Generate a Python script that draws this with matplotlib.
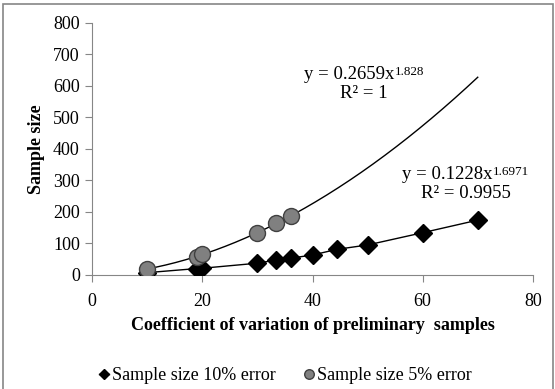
import numpy as np
import matplotlib
matplotlib.use("Agg")
import matplotlib.pyplot as plt
from matplotlib.patches import Rectangle
from matplotlib.offsetbox import TextArea, HPacker, VPacker, AnnotationBbox

# -----------------------------
# Data
# -----------------------------
cv_10 = [10, 19, 20, 30, 33.3, 36, 40, 44.4, 50, 60, 70]
n_10 = [6, 19, 20, 36, 46, 52, 62, 80, 94, 133, 173]

cv_5 = [10, 19, 20, 30, 33.3, 36]
n_5 = [17, 57, 64, 133, 163, 186]

# power trendline as printed on the chart
fit_5 = (0.2659, 1.828)
trend_x = np.linspace(10, 70, 200)

x_ticks = [0, 20, 40, 60, 80]
y_ticks = [0, 100, 200, 300, 400, 500, 600, 700, 800]

plt.rcParams["font.family"] = ["Liberation Serif", "DejaVu Serif"]

fig = plt.figure(figsize=(5.55, 3.89), dpi=100)
ax = fig.add_axes([0.1663, 0.2943, 0.7937, 0.6466])

grey = "#868686"

# trendline for the 5% series
ax.plot(trend_x, fit_5[0] * trend_x ** fit_5[1], color="black", lw=1.0, zorder=2)

# series
ax.plot(cv_10, n_10, color="black", lw=1.0, marker="D", markersize=9,
        markerfacecolor="black", markeredgecolor="black", zorder=3,
        label="Sample size 10% error")
ax.plot(cv_5, n_5, linestyle="none", marker="o", markersize=11.5,
        markerfacecolor="#808080", markeredgecolor="#404040", markeredgewidth=1.0,
        zorder=4, label="Sample size 5% error")

ax.set_xlim(0, 80)
ax.set_ylim(0, 800)
ax.set_xticks(x_ticks)
ax.set_yticks(y_ticks)
ax.tick_params(labelsize=13, color=grey, length=5, direction="out")
ax.tick_params(axis="x", pad=8)
ax.tick_params(axis="y", pad=4)

for side in ["top", "right"]:
    ax.spines[side].set_visible(False)
for side in ["left", "bottom"]:
    ax.spines[side].set_color(grey)

ax.set_xlabel("Coefficient of variation of preliminary  samples",
              fontsize=13, fontweight="bold", labelpad=5)
ax.set_ylabel("Sample size", fontsize=13, fontweight="bold", labelpad=6)


# -----------------------------
# Trendline equations (base + superscript, R² below)
# -----------------------------
def equation_box(base, power, r2, xy):
    eq_size = 13.5
    line1 = HPacker(children=[TextArea(base, textprops=dict(fontsize=eq_size)),
                              TextArea(power, textprops=dict(fontsize=eq_size * 0.7))],
                    align="top", pad=0, sep=0)
    line2 = TextArea(r2, textprops=dict(fontsize=eq_size))
    box = VPacker(children=[line1, line2], align="center", pad=0, sep=1)
    ab = AnnotationBbox(box, xy, xycoords="data", frameon=False,
                        box_alignment=(0.5, 0.5), pad=0)
    ax.add_artist(ab)


equation_box("y = 0.2659x", "1.828", "R² = 1", (49.4, 606))
equation_box("y = 0.1228x", "1.6971", "R² = 0.9955", (67.8, 288))

fig.legend(loc="center", bbox_to_anchor=(0.515, 0.035), ncol=2, frameon=False,
           fontsize=13, handlelength=0.5, handletextpad=0.2, columnspacing=1.6,
           markerscale=0.6)

# outer border of the chart area
fig.patches.append(Rectangle((0.006, -0.01), 0.99, 1.0, transform=fig.transFigure,
                             fill=False, edgecolor=grey, lw=1.2))

fig.savefig("out.png", dpi=100)
plt.close(fig)
